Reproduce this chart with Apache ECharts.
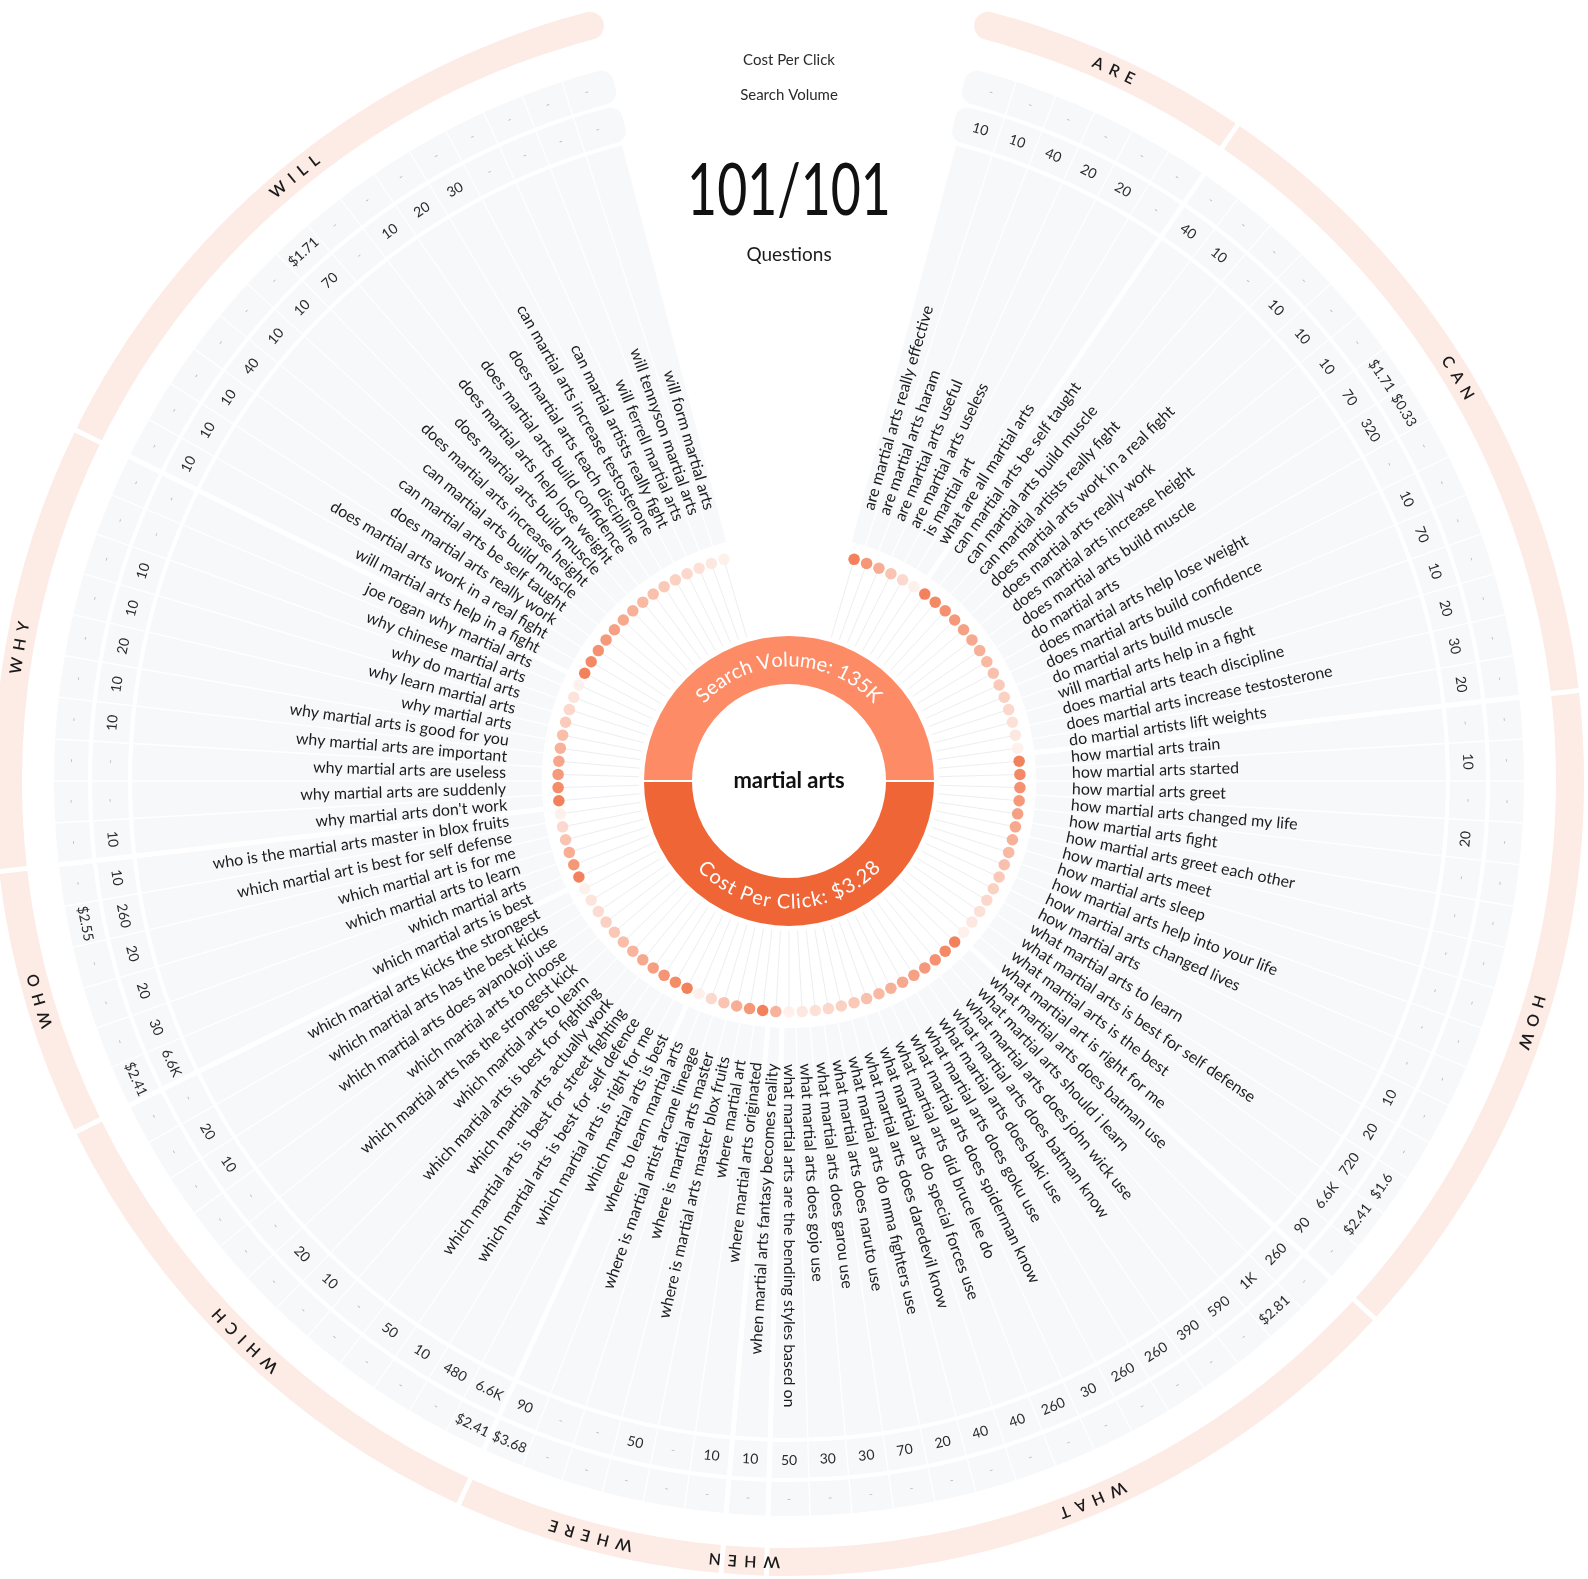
<!DOCTYPE html>
<html>
<head>
<meta charset="utf-8">
<title>martial arts questions</title>
<script src="https://cdn.jsdelivr.net/npm/echarts@6/dist/echarts.min.js"></script>
<style>
  html, body { margin: 0; padding: 0; background: #fff; }
  #main { width: 1588px; height: 1579px; }
</style>
</head>
<body>
<div id="main"></div>
<script>
// ---- data ----
const keyword = 'martial arts';
const summary = [
  { name: 'Search Volume', value: '135K' },
  { name: 'Cost Per Click', value: '$3.28' }
];
const groups = ['ARE', 'CAN', 'HOW', 'WHAT', 'WHEN', 'WHERE', 'WHICH', 'WHO', 'WHY', 'WILL'];
const groupSizes = [6, 15, 15, 15, 1, 6, 12, 6, 10, 15];

const questions = [
  // are
  'are martial arts really effective', 'are martial arts haram', 'are martial arts useful',
  'are martial arts useless', 'is martial art', 'what are all martial arts',
  // can
  'can martial arts be self taught', 'can martial arts build muscle', 'can martial artists really fight',
  'does martial arts work in a real fight', 'does martial arts really work', 'does martial arts increase height',
  'does martial arts build muscle', 'do martial arts', 'does martial arts help lose weight',
  'does martial arts build confidence', 'do martial arts build muscle', 'will martial arts help in a fight',
  'does martial arts teach discipline', 'does martial arts increase testosterone', 'do martial artists lift weights',
  // how
  'how martial arts train', 'how martial arts started', 'how martial arts greet',
  'how martial arts changed my life', 'how martial arts fight', 'how martial arts greet each other',
  'how martial arts meet', 'how martial arts sleep', 'how martial arts help into your life',
  'how martial arts changed lives', 'how martial arts', 'what martial arts to learn',
  'what martial arts is best for self defense', 'what martial arts is the best', 'what martial art is right for me',
  // what
  'what martial arts does batman use', 'what martial arts should i learn', 'what martial arts does john wick use',
  'what martial arts does batman know', 'what martial arts does baki use', 'what martial arts does goku use',
  'what martial arts does spiderman know', 'what martial arts did bruce lee do', 'what martial arts do special forces use',
  'what martial arts does daredevil know', 'what martial arts do mma fighters use', 'what martial arts does naruto use',
  'what martial arts does garou use', 'what martial arts does gojo use', 'what martial arts are the bending styles based on',
  // when
  'when martial arts fantasy becomes reality',
  // where
  'where martial arts originated', 'where martial art', 'where is martial arts master blox fruits',
  'where is martial arts master', 'where is martial artist arcane lineage', 'where to learn martial arts',
  // which
  'which martial arts is best', 'which martial arts is right for me', 'which martial arts is best for self defence',
  'which martial arts is best for street fighting', 'which martial arts actually work', 'which martial arts is best for fighting',
  'which martial arts to learn', 'which martial arts has the strongest kick', 'which martial arts to choose',
  'which martial arts does ayanokoji use', 'which martial arts has the best kicks', 'which martial arts kicks the strongest',
  // who
  'which martial arts is best', 'which martial arts', 'which martial arts to learn',
  'which martial art is for me', 'which martial art is best for self defense', 'who is the martial arts master in blox fruits',
  // why
  "why martial arts don't work", 'why martial arts are suddenly', 'why martial arts are useless',
  'why martial arts are important', 'why martial arts is good for you', 'why martial arts',
  'why learn martial arts', 'why do martial arts', 'why chinese martial arts', 'joe rogan why martial arts',
  // will
  'will martial arts help in a fight', 'does martial arts work in a real fight', 'does martial arts really work',
  'can martial arts be self taught', 'can martial arts build muscle', 'does martial arts increase height',
  'does martial arts build muscle', 'does martial arts help lose weight', 'does martial arts build confidence',
  'does martial arts teach discipline', 'can martial arts increase testosterone', 'can martial artists really fight',
  'will ferrell martial arts', 'will tennyson martial arts', 'will form martial arts'
];

const searchVolume = [
  '10', '10', '40', '20', '20', '-',
  '40', '10', '-', '10', '10', '10', '70', '320', '-', '10', '70', '10', '20', '30', '20',
  '-', '10', '-', '20', '-', '-', '-', '-', '-', '-', '10', '20', '720', '6.6K', '90',
  '260', '1K', '590', '390', '260', '260', '30', '260', '40', '40', '20', '70', '30', '30', '50',
  '10',
  '10', '-', '50', '-', '-', '90',
  '6.6K', '480', '10', '50', '-', '10', '20', '-', '-', '10', '20', '-',
  '6.6K', '30', '20', '20', '260', '10',
  '10', '-', '-', '10', '10', '20', '10', '10', '-', '-',
  '10', '10', '10', '40', '10', '10', '70', '-', '10', '20', '30', '-', '-', '-', '-'
];

const costPerClick = [
  '-', '-', '-', '-', '-', '-',
  '-', '-', '-', '-', '-', '-', '$1.71', '$0.33', '-', '-', '-', '-', '-', '-', '-',
  '-', '-', '-', '-', '-', '-', '-', '-', '-', '-', '-', '-', '$1.6', '$2.41', '-',
  '-', '$2.81', '-', '-', '-', '-', '-', '-', '-', '-', '-', '-', '-', '-', '-',
  '-',
  '-', '-', '-', '-', '-', '$3.68',
  '$2.41', '-', '-', '-', '-', '-', '-', '-', '-', '-', '-', '-',
  '$2.41', '-', '-', '-', '$2.55', '-',
  '-', '-', '-', '-', '-', '-', '-', '-', '-', '-',
  '-', '-', '-', '-', '-', '-', '$1.71', '-', '-', '-', '-', '-', '-', '-', '-'
];

// ---- layout ----
const SLOTS = 110;   // angular slots round the circle
const LEAD = 5;      // question i sits in slot i + LEAD (leaves the gap at the top)
const R = {
  donutIn: 96, donutOut: 146, donutText: 121,
  spokeIn: 150, dot: 231,
  sectorIn: 247, sectorOut: 657, label: 283,
  svIn: 661, svOut: 697, cpcIn: 701, cpcOut: 735,
  ringIn: 767, ringOut: 795, ringText: 781
};
const GRAY = '#f7f8fa';
const PINK = '#fdebe5';
const FONT = 'Lato, "Open Sans", sans-serif';
const LABEL_FONT = '16px ' + FONT;
const NUM_FONT = '14px ' + FONT;
const DASH_FONT = '11px ' + FONT;
const GROUP_FONT = '600 16px ' + FONT;
const DONUT_FONT = '20px ' + FONT;

const groupStart = [];
const groupOf = [];
const posInGroup = [];
let acc = 0;
groupSizes.forEach((n, k) => {
  groupStart.push(acc);
  for (let j = 0; j < n; j++) { groupOf.push(k); posInGroup.push(j); }
  acc += n;
});

const measureCtx = document.createElement('canvas').getContext('2d');
function textWidth(str, font) {
  measureCtx.font = font;
  return measureCtx.measureText(str).width;
}

const DOT_DARK = [240, 98, 50];
const DOT_LIGHT = [254, 236, 230];
function dotColor(j, n) {
  const t = n > 1 ? j / (n - 1) : 0.45;
  const c = DOT_DARK.map((d, i) => Math.round(d + (DOT_LIGHT[i] - d) * t));
  return 'rgb(' + c.join(',') + ')';
}

// polar helpers, everything goes through api.coord
function geom(api) {
  const c = api.coord([0, 0]);
  const g = {
    cx: c[0], cy: c[1],
    ang(v) { const p = api.coord([100, v]); return Math.atan2(p[1] - c[1], p[0] - c[0]); },
    rad(r) { const p = api.coord([r, 0]); return Math.hypot(p[0] - c[0], p[1] - c[1]); },
    at(r, a) { const rr = g.rad(r); return [c[0] + rr * Math.cos(a), c[1] + rr * Math.sin(a)]; }
  };
  return g;
}
function sector(g, r0, r1, v0, v1, fill, cr) {
  const a0 = g.ang(v0);
  let a1 = g.ang(v1);
  while (a1 <= a0) a1 += Math.PI * 2;
  return {
    type: 'sector',
    shape: { cx: g.cx, cy: g.cy, r0: g.rad(r0), r: g.rad(r1), startAngle: a0, endAngle: a1, clockwise: true, cornerRadius: cr || 0 },
    style: { fill: fill }
  };
}
// letters along an arc, a = centre angle (screen radians)
function arcText(g, str, r, a, font, fill, spacing, topsOut) {
  const rr = g.rad(r);
  const ws = str.split('').map(ch => textWidth(ch, font));
  const total = ws.reduce((s, w) => s + w, 0) + spacing * (ws.length - 1);
  const out = [];
  let s = 0;
  str.split('').forEach((ch, j) => {
    const mid = s + ws[j] / 2 - total / 2;
    const aa = topsOut ? a + mid / rr : a - mid / rr;
    out.push({
      type: 'text',
      x: g.cx + rr * Math.cos(aa), y: g.cy + rr * Math.sin(aa),
      rotation: topsOut ? -(aa + Math.PI / 2) : -(aa - Math.PI / 2),
      style: { text: ch, font: font, fill: fill, align: 'center', verticalAlign: 'middle' }
    });
    s += ws[j] + spacing;
  });
  return out;
}

function renderGroup(params, api) {
  const k = api.value(2);
  const g = geom(api);
  const v0 = groupStart[k] + LEAD - 0.5;
  const v1 = v0 + groupSizes[k];
  const first = k === 0;
  const last = k === groups.length - 1;
  const kids = [sector(g, R.sectorIn, R.sectorOut, v0, v1, GRAY, 0)];
  const band = (r0, r1, fill, cr, ext) => {
    if (first) {
      kids.push(sector(g, r0, r1, v0 - ext, v0 + 1.5, fill, cr));
      kids.push(sector(g, r0, r1, v0 + 0.5, v1, fill, 0));
    } else if (last) {
      kids.push(sector(g, r0, r1, v1 - 1.5, v1 + ext, fill, cr));
      kids.push(sector(g, r0, r1, v0, v1 - 0.5, fill, 0));
    } else {
      kids.push(sector(g, r0, r1, v0, v1, fill, 0));
    }
  };
  band(R.svIn, R.svOut, GRAY, 12, 0.2);
  band(R.cpcIn, R.cpcOut, GRAY, 12, 0.2);
  band(R.ringIn, R.ringOut, PINK, 14, 0.3);
  return { type: 'group', children: kids };
}

function renderGroupName(params, api) {
  const k = api.value(2);
  const g = geom(api);
  const a = g.ang(api.value(1));
  return { type: 'group', children: arcText(g, groups[k], R.ringText, a, GROUP_FONT, '#1a1a1a', 7, true) };
}

function renderDivider(params, api) {
  const g = geom(api);
  const a = g.ang(api.value(1));
  const thick = api.value(2) === 1;
  const p0 = g.at(R.sectorIn - 2, a);
  const p1 = g.at(thick ? R.ringOut + 2 : R.cpcOut + 1, a);
  return {
    type: 'line',
    shape: { x1: p0[0], y1: p0[1], x2: p1[0], y2: p1[1] },
    style: { stroke: '#fff', lineWidth: thick ? 5 : 1.3 }
  };
}

function renderSpoke(params, api) {
  const g = geom(api);
  const a = g.ang(api.value(1));
  const p0 = g.at(R.spokeIn, a);
  const p1 = g.at(R.dot, a);
  return {
    type: 'line',
    shape: { x1: p0[0], y1: p0[1], x2: p1[0], y2: p1[1] },
    style: { stroke: '#eceef1', lineWidth: 1 }
  };
}

function bandText(g, a, r, str) {
  const p = g.at(r, a);
  const lower = Math.sin(a) > 1e-6;
  const dash = str === '-';
  return {
    type: 'text', x: p[0], y: p[1],
    rotation: lower ? -(a - Math.PI / 2) : -(a + Math.PI / 2),
    style: {
      text: str, font: dash ? DASH_FONT : NUM_FONT, fill: dash ? '#b9bdc3' : '#2b2b2b',
      align: 'center', verticalAlign: 'middle'
    }
  };
}

function renderQuestion(params, api) {
  const i = api.value(2);
  const g = geom(api);
  const a = g.ang(api.value(1));
  const right = Math.cos(a) > -0.01;
  const p = g.at(R.label, a);
  return {
    type: 'group',
    children: [
      {
        type: 'text', x: p[0], y: p[1],
        rotation: right ? -a : -(a - Math.PI),
        style: { text: questions[i], font: LABEL_FONT, fill: '#1c1c1e', align: right ? 'left' : 'right', verticalAlign: 'middle' }
      },
      bandText(g, a, (R.svIn + R.svOut) / 2, searchVolume[i]),
      bandText(g, a, (R.cpcIn + R.cpcOut) / 2, costPerClick[i])
    ]
  };
}

function renderDonutText(params, api) {
  const k = api.value(2);
  const g = geom(api);
  const a = g.ang(api.value(1));
  const str = summary[k].name + ': ' + summary[k].value;
  return { type: 'group', children: arcText(g, str, R.donutText, a, DONUT_FONT, '#fff', 0.6, k === 0) };
}

// ---- series data ----
const groupData = groups.map((name, k) => [R.ringText, groupStart[k] + LEAD - 0.5 + groupSizes[k] / 2, k]);
const dividerData = [];
for (let i = 1; i < questions.length; i++) {
  dividerData.push([R.cpcOut, i + LEAD - 0.5, groupOf[i] !== groupOf[i - 1] ? 1 : 0]);
}
const itemData = questions.map((q, i) => [R.label, i + LEAD, i]);

const custom = (name, data, renderItem) => ({
  type: 'custom', name: name, coordinateSystem: 'polar', silent: true, clip: false,
  encode: { radius: 0, angle: 1 }, data: data, renderItem: renderItem
});

const chart = echarts.init(document.getElementById('main'));
chart.setOption({
  animation: false,
  backgroundColor: '#ffffff',
  polar: { center: [789, 781], radius: [0, 800] },
  angleAxis: { type: 'value', min: 0, max: SLOTS, startAngle: 90, clockwise: true, show: false },
  radiusAxis: { type: 'value', min: 0, max: 800, show: false },
  graphic: [
    { type: 'text', x: 789, y: 60, style: { text: 'Cost Per Click', font: '15px ' + FONT, fill: '#2b2b2b', align: 'center', verticalAlign: 'middle' } },
    { type: 'text', x: 789, y: 95, style: { text: 'Search Volume', font: '15px ' + FONT, fill: '#2b2b2b', align: 'center', verticalAlign: 'middle' } },
    { type: 'text', x: 789, y: 192, scaleX: 0.72, style: { text: questions.length + '/' + questions.length, font: '400 72px ' + FONT, fill: '#111', align: 'center', verticalAlign: 'middle' } },
    { type: 'text', x: 789, y: 255, style: { text: 'Questions', font: '19px ' + FONT, fill: '#1c1c1e', align: 'center', verticalAlign: 'middle' } },
    { type: 'text', x: 789, y: 781, z: 10, style: { text: keyword, font: 'bold 22px ' + FONT, fill: '#111', align: 'center', verticalAlign: 'middle' } }
  ],
  series: [
    custom('groups', groupData, renderGroup),
    custom('dividers', dividerData, renderDivider),
    custom('groupNames', groupData, renderGroupName),
    custom('spokes', itemData, renderSpoke),
    {
      type: 'scatter', coordinateSystem: 'polar', symbolSize: 11.5, silent: true,
      data: questions.map((q, i) => ({
        value: [R.dot, i + LEAD],
        itemStyle: { color: dotColor(posInGroup[i], groupSizes[groupOf[i]]) }
      }))
    },
    custom('questions', itemData, renderQuestion),
    {
      type: 'pie', center: [789, 781], radius: [R.donutIn, R.donutOut], startAngle: 180,
      silent: true, label: { show: false }, labelLine: { show: false }, emphasis: { scale: false },
      itemStyle: { borderColor: '#fff', borderWidth: 2 },
      data: summary.map((s, k) => ({ name: s.name, value: 1, itemStyle: { color: k === 0 ? '#fd8b66' : '#f06535' } }))
    },
    Object.assign(custom('donutText', [[R.donutText, 0, 0], [R.donutText, SLOTS / 2, 1]], renderDonutText), { z: 5 })
  ]
});
</script>
</body>
</html>
